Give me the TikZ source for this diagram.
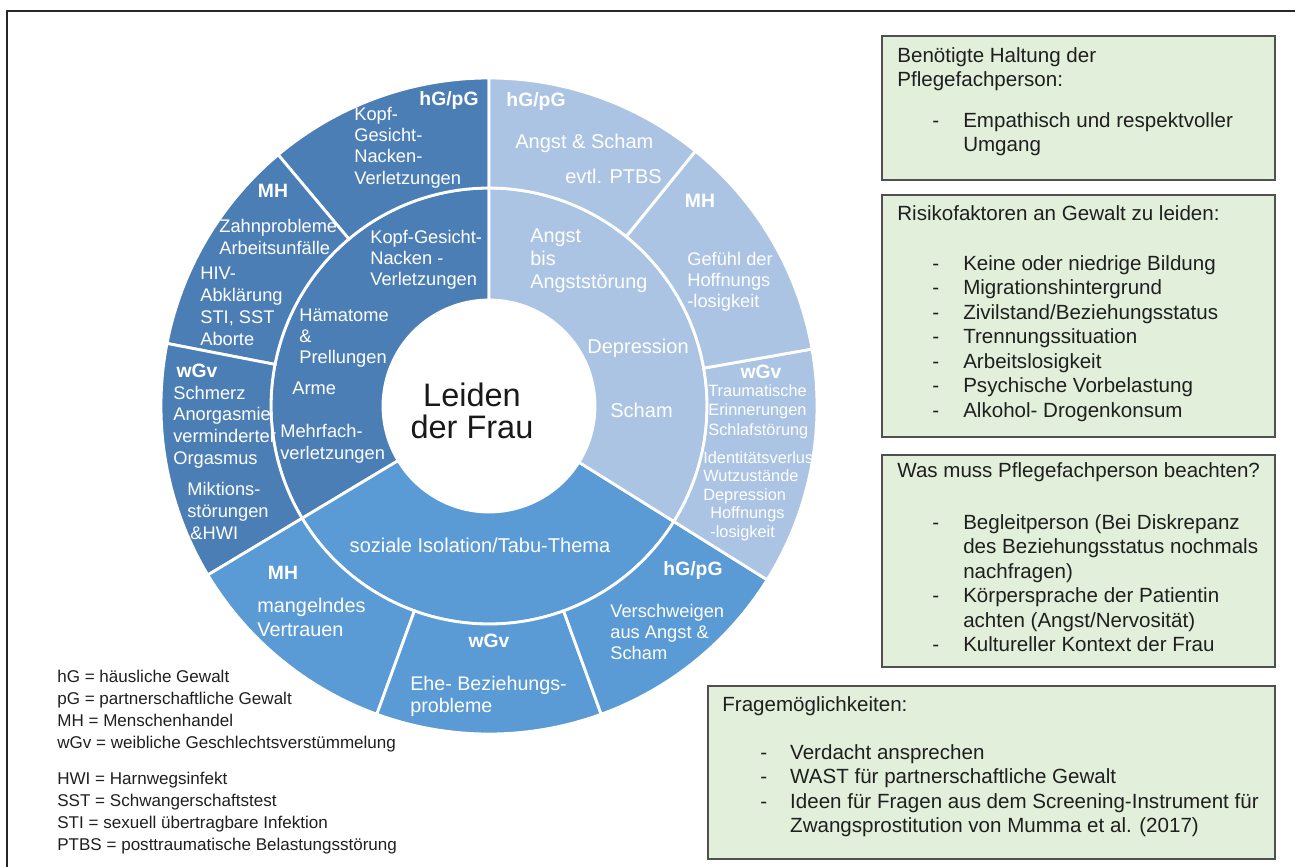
\documentclass[tikz,border=0pt]{standalone}
\usepackage{fontspec}
\setmainfont{Liberation Sans}

\definecolor{ringdark}{HTML}{4C7EB6}
\definecolor{ringmid}{HTML}{5B9BD5}
\definecolor{ringlight}{HTML}{ACC4E4}
\definecolor{boxgreen}{HTML}{E2EFDA}
\definecolor{boxframe}{HTML}{505050}

\newcommand{\textlines}[1]{\begin{tabular}[t]{@{}l@{}}#1\end{tabular}}

\begin{document}
\begin{tikzpicture}[x=0.02cm, y=-0.02cm]
        \tikzstyle{segment}=[draw=white, line width=1.6pt]
        \tikzstyle{ringtext}=[inner sep=0pt, anchor=base west, text=white, font=\fontsize{10.4}{12.2}\selectfont]
        \tikzstyle{ringbig}=[inner sep=0pt, anchor=base west, text=white, font=\fontsize{11.4}{13.2}\selectfont]
        \tikzstyle{ringsmall}=[inner sep=0pt, anchor=base west, text=white, font=\fontsize{9.3}{11.2}\selectfont]
        \tikzstyle{ringlabel}=[text=white, font=\bfseries\fontsize{11}{13}\selectfont, inner sep=0pt, anchor=base]
        \tikzstyle{infobox}=[draw=boxframe, fill=boxgreen, line width=0.8pt]
        \tikzstyle{boxtext}=[inner sep=0pt, anchor=base west, text=black!88, font=\fontsize{11.7}{13.95}\selectfont]
        \tikzstyle{legend}=[inner sep=0pt, anchor=base west, text=black!88, font=\fontsize{9.7}{12.7}\selectfont]

        \useasboundingbox (0,0) rectangle (1295,866);
        \clip (0,0) rectangle (1295,866);
        \draw[line width=1.2pt, black!85] (7,11) rectangle (1310,880);

        \coordinate (M) at (489,406);

        \begin{scope}[shift={(M)}, yscale=-1]
          % inner ring
          \path[segment, fill=ringdark] (90:106) -- (90:218) arc[start angle=90, end angle=211, radius=218] -- (211:106) arc[start angle=211, end angle=90, radius=106] -- cycle;
          \path[segment, fill=ringmid] (211:106) -- (211:218) arc[start angle=211, end angle=328, radius=218] -- (328:106) arc[start angle=328, end angle=211, radius=106] -- cycle;
          \path[segment, fill=ringlight] (-32:106) -- (-32:218) arc[start angle=-32, end angle=90, radius=218] -- (90:106) arc[start angle=90, end angle=-32, radius=106] -- cycle;

          % outer ring, left part
          \path[segment, fill=ringdark] (90:218) -- (90:328) arc[start angle=90, end angle=130, radius=328] -- (130:218) arc[start angle=130, end angle=90, radius=218] -- cycle;
          \path[segment, fill=ringdark] (130:218) -- (130:328) arc[start angle=130, end angle=169, radius=328] -- (169:218) arc[start angle=169, end angle=130, radius=218] -- cycle;
          \path[segment, fill=ringdark] (169:218) -- (169:328) arc[start angle=169, end angle=211, radius=328] -- (211:218) arc[start angle=211, end angle=169, radius=218] -- cycle;

          % outer ring, bottom part
          \path[segment, fill=ringmid] (211:218) -- (211:328) arc[start angle=211, end angle=250, radius=328] -- (250:218) arc[start angle=250, end angle=211, radius=218] -- cycle;
          \path[segment, fill=ringmid] (250:218) -- (250:328) arc[start angle=250, end angle=290, radius=328] -- (290:218) arc[start angle=290, end angle=250, radius=218] -- cycle;
          \path[segment, fill=ringmid] (290:218) -- (290:328) arc[start angle=290, end angle=328, radius=328] -- (328:218) arc[start angle=328, end angle=290, radius=218] -- cycle;

          % outer ring, right part
          \path[segment, fill=ringlight] (-32:218) -- (-32:328) arc[start angle=-32, end angle=10, radius=328] -- (10:218) arc[start angle=10, end angle=-32, radius=218] -- cycle;
          \path[segment, fill=ringlight] (10:218) -- (10:328) arc[start angle=10, end angle=51, radius=328] -- (51:218) arc[start angle=51, end angle=10, radius=218] -- cycle;
          \path[segment, fill=ringlight] (51:218) -- (51:328) arc[start angle=51, end angle=90, radius=328] -- (90:218) arc[start angle=90, end angle=51, radius=218] -- cycle;
        \end{scope}

        \node[text=black!90, font=\fontsize{18.5}{17}\selectfont, inner sep=0pt, anchor=base] (leiden) at (472,406) {\begin{tabular}[t]{@{}c@{}}Leiden\\der Frau\end{tabular}};

        \begin{scope}
          \clip (M) circle[radius=328];

          % dark part
          \node[ringlabel] (hgpgA) at (449,105) {hG/pG};
          \node[ringtext] (kopfA) at (354,120) {\textlines{Kopf-\\Gesicht-\\Nacken-\\Verletzungen}};
          \node[ringlabel] (mhA) at (273,197) {MH};
          \node[ringtext, font=\fontsize{10.4}{13}\selectfont] (zahn) at (219,232) {\textlines{Zahnprobleme\\Arbeitsunfälle}};
          \node[ringtext, font=\fontsize{10.4}{12.6}\selectfont] (hiv) at (200,279) {\textlines{HIV-\\Abklärung\\STI, SST\\Aborte}};
          \node[ringtext] (kopfB) at (370,243) {\textlines{Kopf-Gesicht-\\Nacken -\\Verletzungen}};
          \node[ringtext] (haem) at (299,321) {\textlines{Hämatome\\\&\\Prellungen}};
          \node[ringtext] (arme) at (292,394) {Arme};
          \node[ringtext, font=\fontsize{10.4}{13}\selectfont] (mehr) at (280,437) {\textlines{Mehrfach-\\verletzungen}};
          \node[ringlabel] (wgvA) at (197,377) {wGv};
          \node[ringtext, font=\fontsize{10.4}{12.5}\selectfont] (schmerz) at (173,399) {\textlines{Schmerz\\Anorgasmie\\verminderter\\Orgasmus}};
          \node[ringtext, font=\fontsize{10.4}{12.8}\selectfont] (mikt) at (187,495) {\textlines{Miktions-\\störungen\\\,\&HWI}};

          % medium part
          \node[ringbig, anchor=base] (sozial) at (480,552) {soziale Isolation/Tabu-Thema};
          \node[ringlabel] (mhB) at (283,579) {MH};
          \node[ringbig, font=\fontsize{11.3}{14.2}\selectfont] (vertr) at (257,612) {\textlines{mangelndes\\Vertrauen}};
          \node[ringlabel] (wgvB) at (489,647) {wGv};
          \node[ringbig, font=\fontsize{11.2}{13}\selectfont] (ehe) at (410,690) {\textlines{Ehe- Beziehungs-\\probleme}};
          \node[ringlabel] (hgpgB) at (693,575) {hG/pG};
          \node[ringtext] (versch) at (610,617) {\textlines{Verschweigen\\aus Angst \&\\Scham}};

          % light part
          \node[ringlabel] (hgpgC) at (536,106) {hG/pG};
          \node[ringbig] (angstA) at (515,148) {Angst \& Scham};
          \node[ringbig] (ptbs) at (565,183) {evtl. PTBS};
          \node[ringlabel] (mhC) at (700,207) {MH};
          \node[ringtext] (gefuehl) at (687,265) {\textlines{Gefühl der\\Hoffnungs\\-losigkeit}};
          \node[ringbig, font=\fontsize{11.3}{13.3}\selectfont] (angstB) at (530,242) {\textlines{Angst\\bis\\Angststörung}};
          \node[ringbig] (depr) at (587,353) {Depression};
          \node[ringbig] (scham) at (610,417) {Scham};
          \node[ringlabel] (wgvC) at (761,378) {wGv};
          \node[ringsmall] (trauma) at (708,396) {\textlines{Traumatische\\Erinnerungen\\Schlafstörung}};
          \node[ringsmall, font=\fontsize{9.3}{10.8}\selectfont] (ident) at (703,463) {\textlines{Identitätsverlust\\Wutzustände\\Depression}};
          \node[ringsmall] (hoffn) at (710,518) {\textlines{Hoffnungs\\-losigkeit}};
        \end{scope}

        % boxes on the right
        \draw[infobox] (882,36) rectangle (1275,180);
        \node[boxtext] (haltung) at (897,62) {\textlines{Benötigte Haltung der\\Pflegefachperson:}};
        \node[boxtext] (haltungL) at (932,127) {\textlines{\makebox[17.6pt][l]{-}Empathisch und respektvoller\\\hspace*{17.6pt}Umgang}};

        \draw[infobox] (882,195) rectangle (1275,437);
        \node[boxtext] (risiko) at (897,220) {Risikofaktoren an Gewalt zu leiden:};
        \node[boxtext] (risikoL) at (932,270) {\textlines{\makebox[17.6pt][l]{-}Keine oder niedrige Bildung\\
          \makebox[17.6pt][l]{-}Migrationshintergrund\\
          \makebox[17.6pt][l]{-}Zivilstand/Beziehungsstatus\\
          \makebox[17.6pt][l]{-}Trennungssituation\\
          \makebox[17.6pt][l]{-}Arbeitslosigkeit\\
          \makebox[17.6pt][l]{-}Psychische Vorbelastung\\
          \makebox[17.6pt][l]{-}Alkohol- Drogenkonsum}};

        \draw[infobox] (882,455) rectangle (1275,667);
        \node[boxtext] (beachten) at (897,477) {Was muss Pflegefachperson beachten?};
        \node[boxtext] (beachtenL) at (932,529) {\textlines{\makebox[17.6pt][l]{-}Begleitperson (Bei Diskrepanz\\
          \hspace*{17.6pt}des Beziehungsstatus nochmals\\
          \hspace*{17.6pt}nachfragen)\\
          \makebox[17.6pt][l]{-}Körpersprache der Patientin\\
          \hspace*{17.6pt}achten (Angst/Nervosität)\\
          \makebox[17.6pt][l]{-}Kultureller Kontext der Frau}};

        \draw[infobox] (708,686) rectangle (1275,859);
        \node[boxtext] (fragen) at (722,711) {Fragemöglichkeiten:};
        \node[boxtext] (fragenL) at (760,759) {\textlines{\makebox[17pt][l]{-}Verdacht ansprechen\\
          \makebox[17pt][l]{-}WAST für partnerschaftliche Gewalt\\
          \makebox[17pt][l]{-}Ideen für Fragen aus dem Screening-Instrument für\\
          \hspace*{17pt}Zwangsprostitution von Mumma et al. (2017)}};

        % abbreviations
        \node[legend] (abk) at (57,682) {\textlines{hG = häusliche Gewalt\\pG = partnerschaftliche Gewalt\\MH = Menschenhandel\\wGv = weibliche Geschlechtsverstümmelung}};
        \node[legend] (abkB) at (57,784) {\textlines{HWI = Harnwegsinfekt\\SST = Schwangerschaftstest\\STI = sexuell übertragbare Infektion\\PTBS = posttraumatische Belastungsstörung}};
      \end{tikzpicture}
\end{document}
